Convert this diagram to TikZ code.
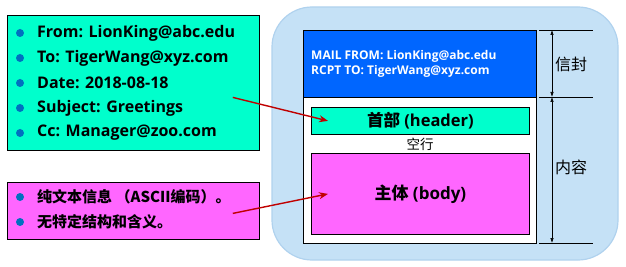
\documentclass[tikz,border=0pt]{standalone}
\usepackage{fontspec}
\setmainfont{Open Sans}
\newfontfamily\cjk{Noto Sans CJK SC}
\usetikzlibrary{positioning,arrows.meta}

\definecolor{mint}{RGB}{0,255,204}
\definecolor{pink}{RGB}{255,102,255}
\definecolor{envblue}{RGB}{0,102,255}
\definecolor{dotblue}{RGB}{0,112,192}
\definecolor{paleblue}{RGB}{197,225,246}
\definecolor{paleedge}{RGB}{176,210,238}
\definecolor{darkred}{RGB}{192,0,0}

\tikzset{
  box/.style={draw, line width=0.8pt, inner sep=0pt, anchor=north west},
  item/.style={anchor=west, inner sep=0pt, font=\bfseries\fontsize{16}{19}\selectfont},
  dot/.style={circle, fill=dotblue, inner sep=0pt, minimum size=8pt},
  pointer/.style={darkred, line width=1.4pt, -{Stealth[length=9pt,width=7pt,inset=3pt]}},
  dim/.style={line width=0.6pt, {Latex[length=5pt,width=3.5pt]}-{Latex[length=5pt,width=3.5pt]}},
}

\begin{document}
\begin{tikzpicture}[x=1pt, y=-1pt]
    \useasboundingbox (0,0) rectangle (626,267);

    % header fields
    \node[box, fill=mint, minimum width=252pt, minimum height=135pt] (hdrlist) at (7,15) {};
    \foreach \t [count=\i] in {From: LionKing@abc.edu, To: TigerWang@xyz.com, Date: 2018-08-18, Subject: Greetings, Cc: Manager@zoo.com} {
      \node[dot] (hd\i) at (20, 8+25*\i) {};
      \node[item] (ht\i) at (37, 8+25*\i) {\t};
    }

    % body text
    \node[box, fill=pink, minimum width=252pt, minimum height=57pt] (bodylist) at (7,182) {};
    \node[dot] (bd1) at (20,197) {};
    \node[item, font=\bfseries\fontsize{15}{18}\selectfont] (bt1) at (37,197) {\cjk 纯文本信息 （ASCII编码）。};
    \node[dot] (bd2) at (20,222) {};
    \node[item, font=\bfseries\fontsize{15}{18}\selectfont] (bt2) at (37,222) {\cjk 无特定结构和含义。};

    % the mail object
    \filldraw[fill=paleblue, draw=paleedge, line width=1.2pt, rounded corners=40pt] (272,7) rectangle (618,260);
    \node[box, fill=envblue, minimum width=233pt, minimum height=67pt] (envelope) at (303,30) {};
    \node[anchor=west, inner sep=0pt, align=left, text=white, font=\bfseries\fontsize{12}{15}\selectfont] (envtxt) at (311,63.5)
      {MAIL FROM: LionKing@abc.edu\\RCPT TO: TigerWang@xyz.com};
    \node[box, fill=white, minimum width=233pt, minimum height=146pt] (content) at (303,97) {};
    \node[box, fill=mint, minimum width=218pt, minimum height=27pt] (header) at (311,107) {};
    \node[font=\bfseries\fontsize{16.5}{20}\selectfont] at (header.center) {{\cjk 首部} (header)};
    \node[font=\cjk\fontsize{13.5}{16}\selectfont, inner sep=0pt] (blank) at (420,144) {空行};
    \node[box, fill=pink, minimum width=218pt, minimum height=81pt] (body) at (311,153) {};
    \node[font=\bfseries\fontsize{17}{20}\selectfont] at (body.center) {{\cjk 主体} (body)};

    % dimension marks
    \coordinate (e1) at (552,30);
    \coordinate (e2) at (552,97);
    \coordinate (e3) at (552,243);
    \draw[line width=0.6pt] (539,30) -- (593,30) (539,97) -- (593,97) (539,243) -- (593,243);
    \draw[dim] (e1) -- (e2);
    \draw[dim] (e2) -- (e3);
    \node[font=\cjk\fontsize{16}{18}\selectfont] at (571,64) {信封};
    \node[font=\cjk\fontsize{16}{18}\selectfont] at (571,167) {内容};

    % pointers
    \coordinate (hsrc) at ([shift={(-27,14.5)}]hdrlist.east);
    \coordinate (bsrc) at ([shift={(-27,2.5)}]bodylist.east);
    \coordinate (hdst) at ([shift={(17,0)}]header.west);
    \coordinate (bdst) at ([shift={(17,0)}]body.west);
    \draw[pointer] (hsrc) -- (hdst);
    \draw[pointer] (bsrc) -- (bdst);
\end{tikzpicture}
\end{document}
